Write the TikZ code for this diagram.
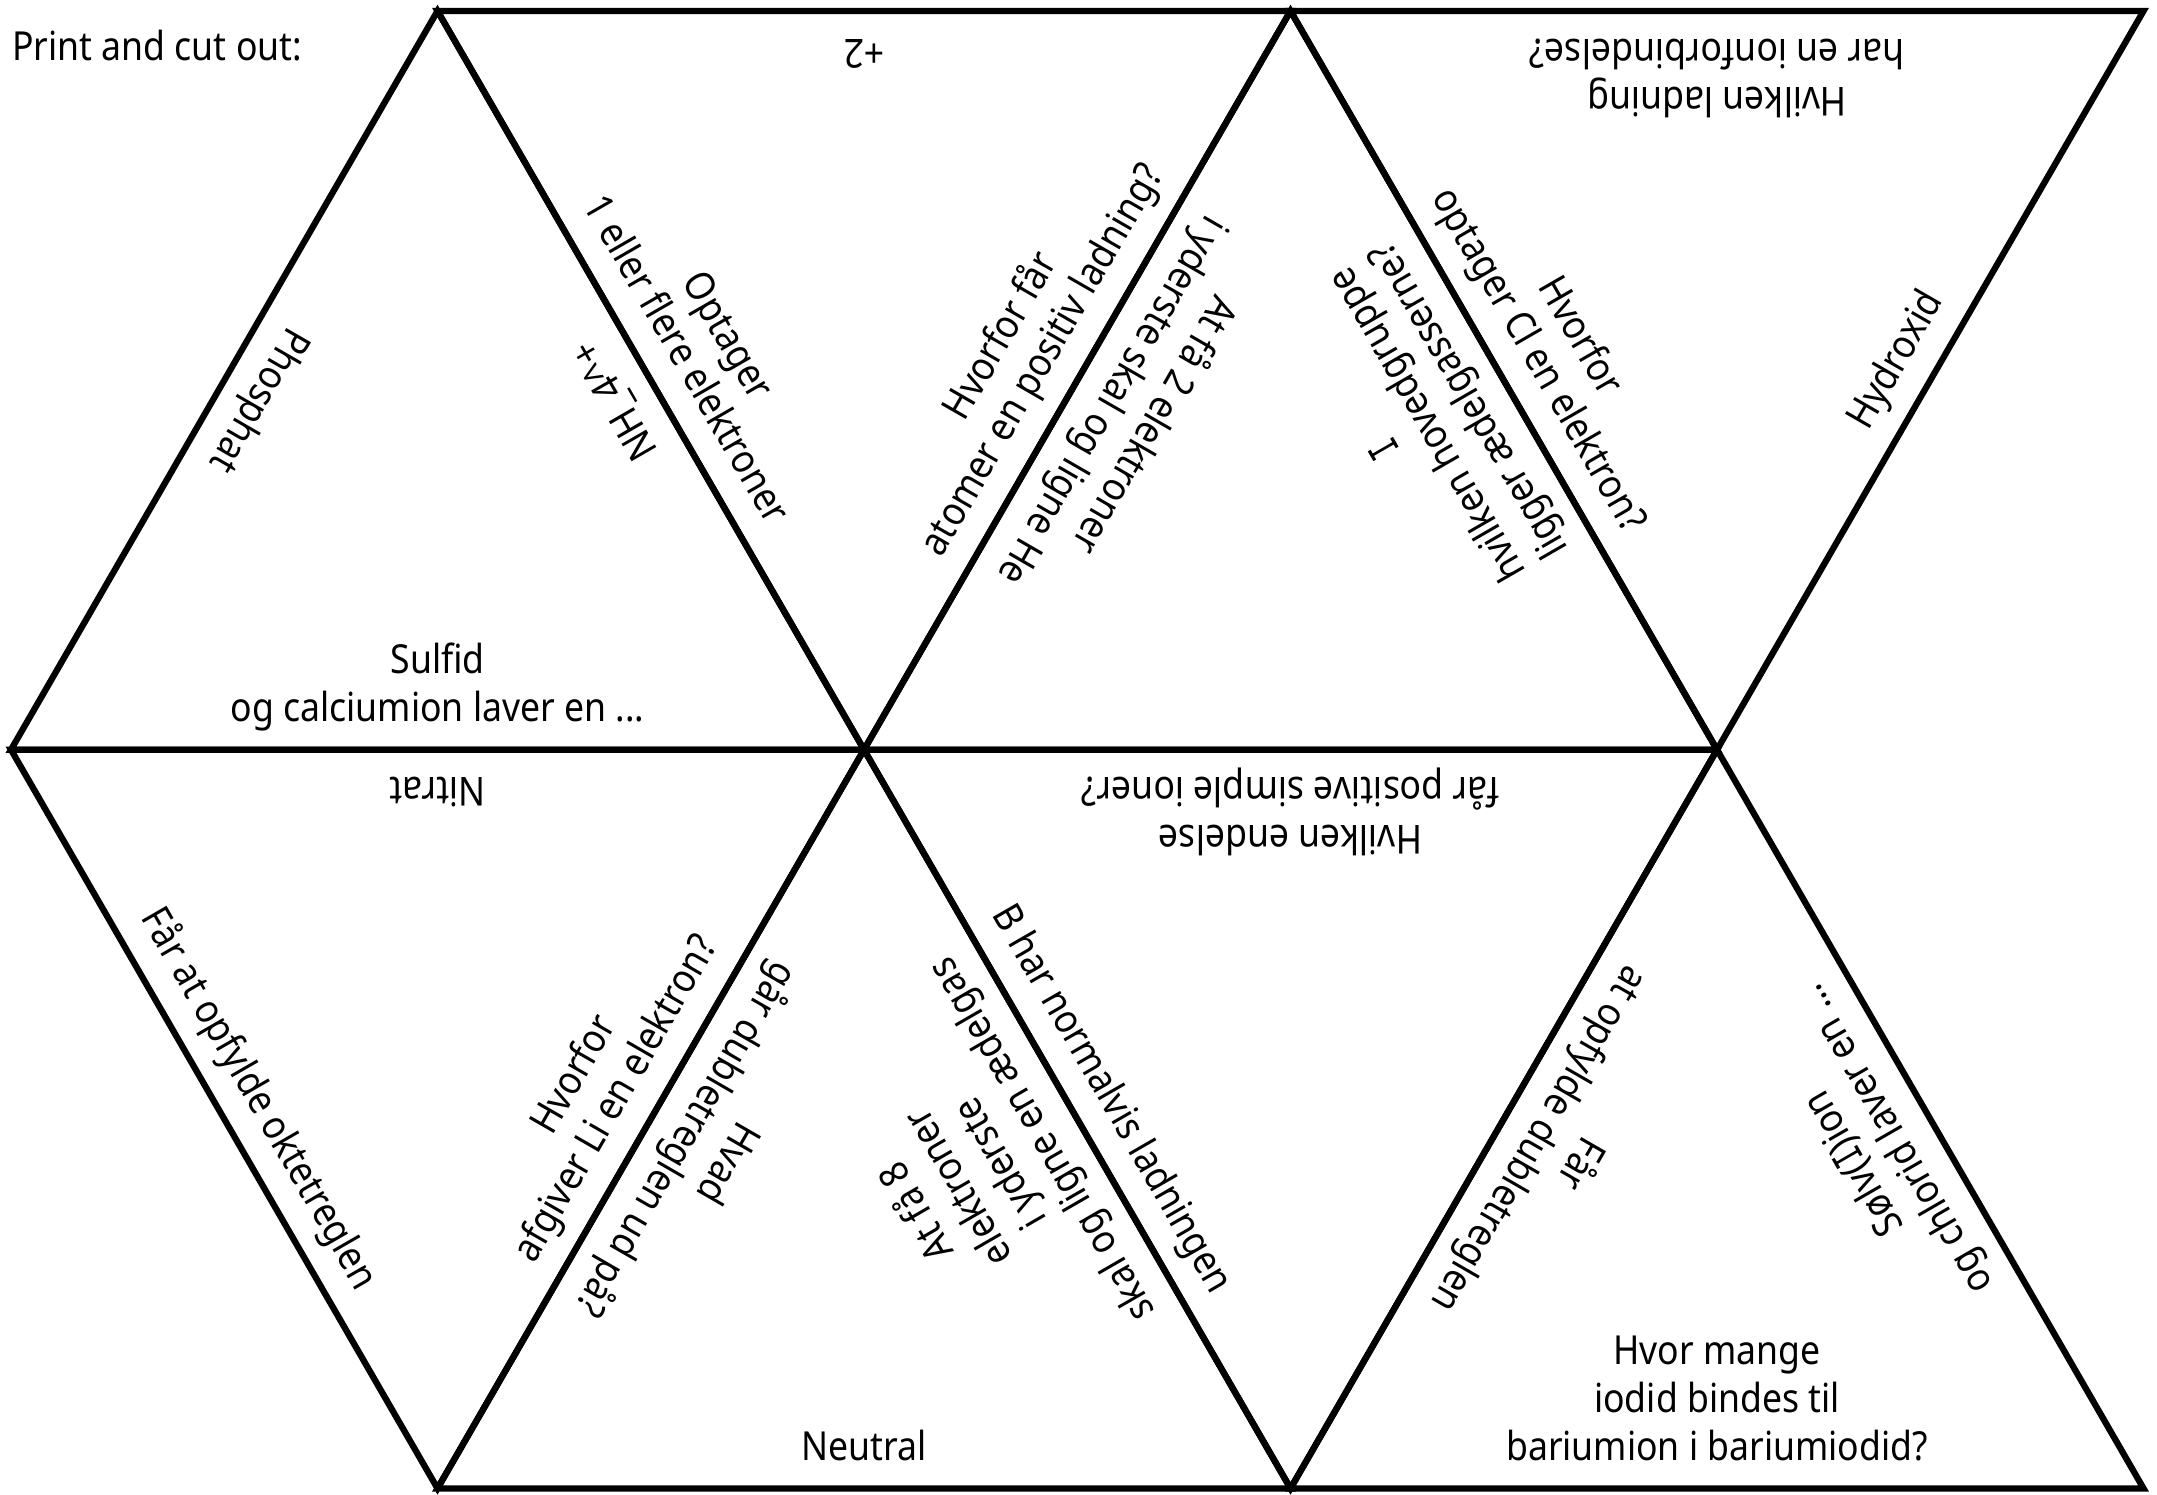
\documentclass[tikz,border=0pt]{standalone}
\usepackage{fontspec}
\setmainfont{Noto Sans}[FakeStretch=0.89]
\newfontfamily\serifIfont{DejaVu Sans Mono}[FakeStretch=0.7]
\newcommand{\capI}{{\serifIfont I}}
\newcommand{\lastdepth}{\rule[-11pt]{0pt}{0pt}}
\usetikzlibrary{calc}
\newcommand{\edgelabel}[6]{%
  \coordinate (#1-m) at ($(#2)!0.5!(#3)$);
  \node[lbl, rotate=#5] (#1) at ($(#1-m)!17pt!(#4)$) {#6\lastdepth};}
\begin{document}
\begin{tikzpicture}[x=1pt,y=-1pt,
  edge/.style={line width=6.3pt, line join=miter},
  lbl/.style={font=\fontsize{40}{48}\selectfont, align=center, inner sep=0pt, anchor=south}]
\useasboundingbox (0,0) rectangle (2157,1495);
% vertices
\coordinate (t1) at (437.5,11);
\coordinate (t2) at (1290.5,11);
\coordinate (t3) at (2143.5,11);
\coordinate (m0) at (11,749.7);
\coordinate (m1) at (864,749.7);
\coordinate (m2) at (1717,749.7);
\coordinate (b1) at (437.5,1488.4);
\coordinate (b2) at (1290.5,1488.4);
\coordinate (b3) at (2143.5,1488.4);
% triangles
\draw[edge] (m0) -- (t1) -- (m1) -- cycle;
\draw[edge] (t1) -- (t2) -- (m1) -- cycle;
\draw[edge] (m1) -- (t2) -- (m2) -- cycle;
\draw[edge] (t2) -- (t3) -- (m2) -- cycle;
\draw[edge] (m0) -- (m1) -- (b1) -- cycle;
\draw[edge] (b1) -- (m1) -- (b2) -- cycle;
\draw[edge] (m1) -- (m2) -- (b2) -- cycle;
\draw[edge] (b2) -- (m2) -- (b3) -- cycle;
% title
\node[font=\fontsize{40}{48}\selectfont, anchor=base west, inner sep=0pt] (title) at (12,61) {Print and cut out:};
% T1
\edgelabel{t1a}{m0}{t1}{m1}{240}{Phosphat}
\edgelabel{t1b}{t1}{m1}{m0}{120}{NH\_4\textasciicircum+}
\edgelabel{t1c}{m0}{m1}{t1}{0}{Sulfid\\og calciumion laver en ...}
% T2
\edgelabel{t2a}{t1}{t2}{m1}{180}{+2}
\edgelabel{t2b}{t1}{m1}{t2}{300}{Optager\\1 eller flere elektroner}
\edgelabel{t2c}{t2}{m1}{t1}{60}{Hvorfor får\\atomer en positiv ladning?}
% T3
\edgelabel{t3a}{m1}{t2}{m2}{240}{At få 2 elektroner\\i yderste skal og ligne He}
\edgelabel{t3b}{t2}{m2}{m1}{120}{\capI\\hvilken hovedgruppe\\ligger ædelgasserne?}
% T4
\edgelabel{t4a}{t2}{t3}{m2}{180}{Hvilken ladning\\har en ionforbindelse?}
\edgelabel{t4b}{t2}{m2}{t3}{300}{Hvorfor\\optager Cl en elektron?}
\edgelabel{t4c}{t3}{m2}{t2}{60}{Hydroxid}
% B1
\edgelabel{b1a}{m0}{m1}{b1}{180}{Nitrat}
\edgelabel{b1b}{m0}{b1}{m1}{300}{Får at opfylde oktetreglen}
\edgelabel{b1c}{m1}{b1}{m0}{60}{Hvorfor\\afgiver Li en elektron?}
% B2
\edgelabel{b2a}{b1}{m1}{b2}{240}{Hvad\\går dubletreglen ud på?}
\edgelabel{b2b}{m1}{b2}{b1}{120}{At få 8\\elektroner\\i yderste\\skal og ligne en ædelgas}
\edgelabel{b2c}{b1}{b2}{m1}{0}{Neutral}
% B3
\edgelabel{b3a}{m1}{m2}{b2}{180}{Hvilken endelse\\får positive simple ioner?}
\edgelabel{b3b}{m1}{b2}{m2}{300}{B har normalvis ladningen}
% B4
\edgelabel{b4a}{b2}{m2}{b3}{240}{Får\\at opfylde dubletreglen}
\edgelabel{b4b}{m2}{b3}{b2}{120}{Sølv(\capI)ion\\og chlorid laver en ...}
\edgelabel{b4c}{b2}{b3}{m2}{0}{Hvor mange\\iodid bindes til\\bariumion i bariumiodid?}
\end{tikzpicture}
\end{document}
